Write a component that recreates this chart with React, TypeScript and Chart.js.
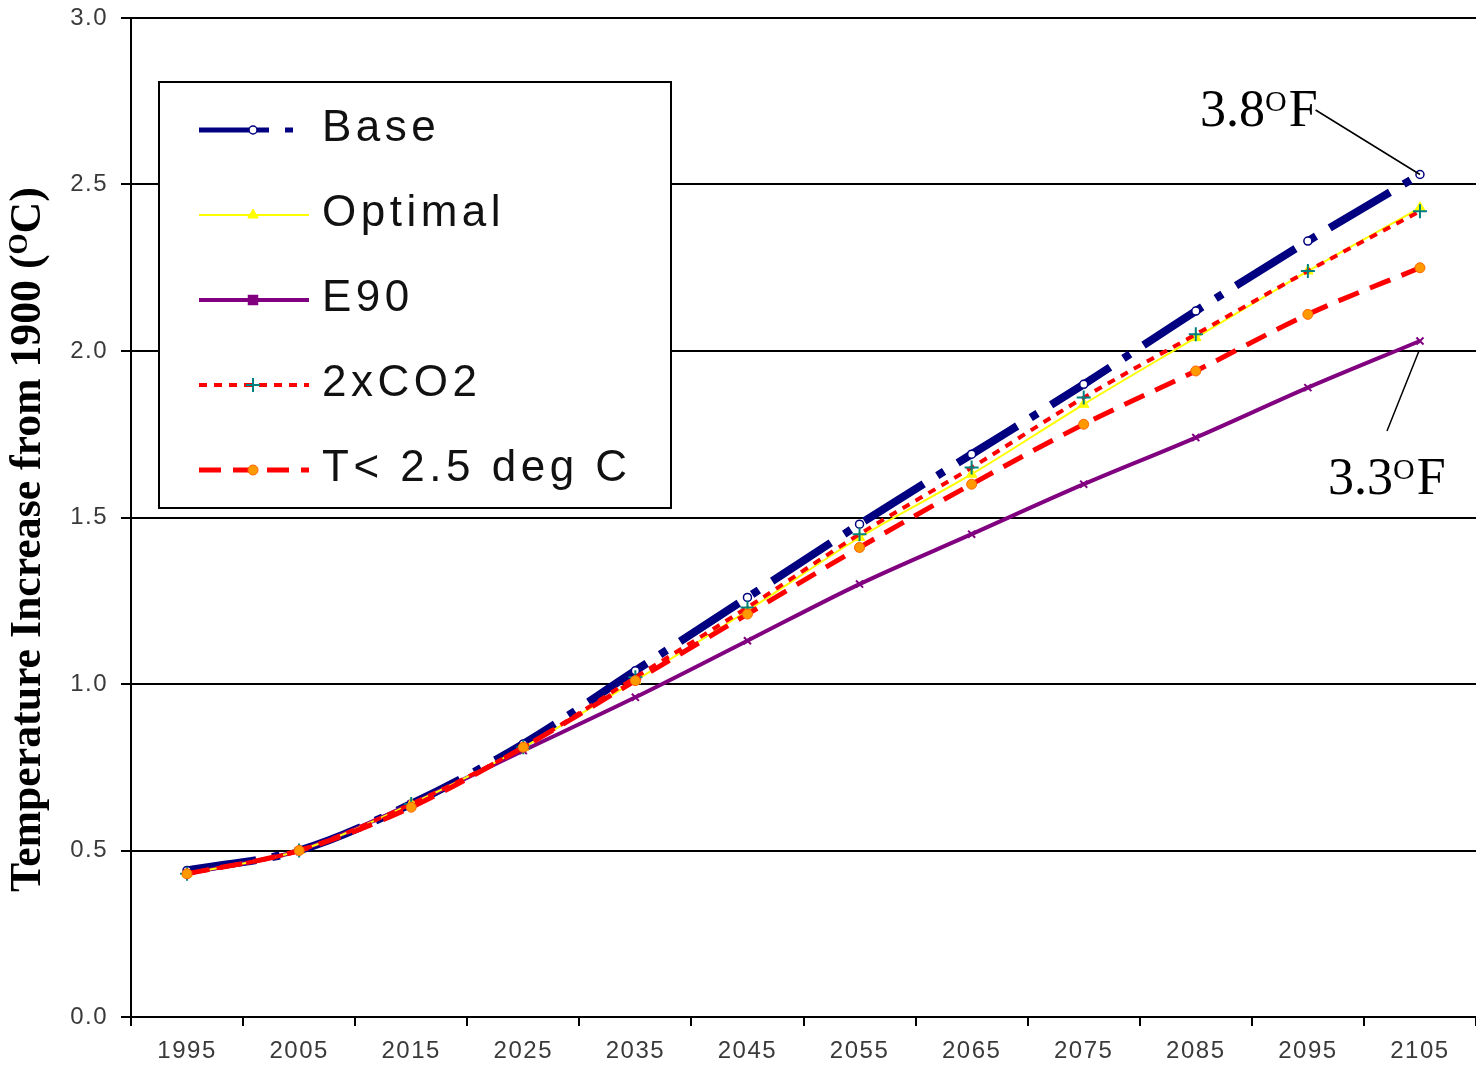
import React, { useEffect, useRef } from 'react';
import { Chart, registerables } from 'chart.js';
import { drawPoint } from 'chart.js/helpers';

Chart.register(...registerables);

const years = ['1995', '2005', '2015', '2025', '2035', '2045', '2055', '2065', '2075', '2085', '2095', '2105'];
const baseValues = [0.44, 0.5, 0.64, 0.82, 1.04, 1.26, 1.48, 1.69, 1.9, 2.12, 2.33, 2.53];
const optimalValues = [0.43, 0.5, 0.64, 0.81, 1.01, 1.22, 1.44, 1.63, 1.84, 2.04, 2.24, 2.43];
const e90Values = [0.43, 0.5, 0.64, 0.8, 0.96, 1.13, 1.3, 1.45, 1.6, 1.74, 1.89, 2.03];
const co2Values = [0.43, 0.5, 0.64, 0.81, 1.02, 1.23, 1.45, 1.65, 1.86, 2.05, 2.24, 2.42];
const t25Values = [0.43, 0.5, 0.63, 0.81, 1.01, 1.21, 1.41, 1.6, 1.78, 1.94, 2.11, 2.25];
const seriesLabels = ['Base', 'Optimal', 'E90', '2xCO2', 'T< 2.5 deg C'];
const legendMarkerStyles = ['circle', 'triangle', 'rect', 'cross', 'circle'];

const FONT_SANS = '"Liberation Sans", Arial, sans-serif';
const FONT_SERIF = '"Liberation Serif", "Times New Roman", serif';

export default function App() {
  const ref = useRef<HTMLCanvasElement>(null);

  useEffect(() => {
    const canvas = ref.current;
    if (!canvas) return;
    const ctx = canvas.getContext('2d');
    if (!ctx) return;

    const overlay = {
      id: 'overlay',
      beforeDraw(chart: any) {
        (chart.ctx as any).letterSpacing = '1.5px';
      },
      afterDraw(chart: any) {
        const c = chart.ctx as any;
        c.save();
        c.letterSpacing = '0px';

        // Legend box
        const bx = 159, by = 82, bw = 512, bh = 426;
        c.fillStyle = '#ffffff';
        c.fillRect(bx, by, bw, bh);
        c.strokeStyle = '#000';
        c.lineWidth = 2;
        c.setLineDash([]);
        c.strokeRect(bx, by, bw, bh);

        chart.data.datasets.forEach((ds: any, i: number) => {
          const y = 130 + i * 85;
          c.save();
          c.setLineDash(ds.borderDash || []);
          c.strokeStyle = ds.borderColor;
          c.lineWidth = Math.min(ds.borderWidth, 5);
          c.lineCap = 'butt';
          c.beginPath();
          c.moveTo(199, y);
          c.lineTo(309, y);
          c.stroke();
          c.setLineDash([]);
          c.fillStyle = ds.pointBackgroundColor;
          c.strokeStyle = ds.pointBorderColor;
          c.lineWidth = ds.pointBorderWidth;
          const style = legendMarkerStyles[i];
          drawPoint(c, { pointStyle: style, radius: style === 'rect' ? 6 : ds.pointRadius, borderWidth: ds.pointBorderWidth, rotation: 0 } as any, 253, y);
          c.restore();
          c.save();
          c.font = `44px ${FONT_SANS}`;
          c.letterSpacing = '4.5px';
          c.fillStyle = '#111';
          c.textAlign = 'left';
          c.textBaseline = 'alphabetic';
          c.fillText(ds.label, 322, y + 11);
          c.restore();
        });

        // Y axis title with superscript
        c.save();
        c.translate(40, 892);
        c.rotate(-Math.PI / 2);
        const p1 = 'Temperature Increase from 1900 (';
        const p2 = 'O';
        const p3 = 'C)';
        let size = 38;
        const measure = (s: number) => {
          c.font = `bold ${s}px ${FONT_SERIF}`;
          const w1 = c.measureText(p1).width;
          const w3 = c.measureText(p3).width;
          c.font = `bold ${s * 0.62}px ${FONT_SERIF}`;
          const w2 = c.measureText(p2).width;
          return [w1, w2, w3];
        };
        let [w1, w2, w3] = measure(size);
        size = size * (705 / (w1 + w2 + w3));
        [w1, w2, w3] = measure(size);
        c.fillStyle = '#000';
        c.textBaseline = 'alphabetic';
        c.textAlign = 'left';
        c.font = `bold ${size}px ${FONT_SERIF}`;
        c.fillText(p1, 0, 0);
        c.font = `bold ${size * 0.62}px ${FONT_SERIF}`;
        c.fillText(p2, w1, -size * 0.3);
        c.font = `bold ${size}px ${FONT_SERIF}`;
        c.fillText(p3, w1 + w2, 0);
        c.restore();

        // Annotations
        const xs = chart.scales.x;
        const ys = chart.scales.y;
        const last = years.length - 1;
        const bxp = xs.getPixelForValue(last);
        const byp = ys.getPixelForValue(baseValues[last]);
        const eyp = ys.getPixelForValue(e90Values[last]);

        const drawLabel = (x: number, yb: number, main: string) => {
          c.fillStyle = '#000';
          c.textAlign = 'left';
          c.textBaseline = 'alphabetic';
          c.font = `52px ${FONT_SERIF}`;
          c.fillText(main, x, yb);
          const wm = c.measureText(main).width;
          c.font = `30px ${FONT_SERIF}`;
          c.fillText('O', x + wm, yb - 15);
          const wo = c.measureText('O').width;
          c.font = `52px ${FONT_SERIF}`;
          c.fillText('F', x + wm + wo + 2, yb);
          return x + wm + wo + 2 + c.measureText('F').width;
        };
        const end38 = drawLabel(1200, 126, '3.8');
        drawLabel(1328, 494, '3.3');

        c.strokeStyle = '#000';
        c.lineWidth = 1.5;
        c.beginPath();
        c.moveTo(end38 - 2, 110);
        c.lineTo(bxp, byp);
        c.moveTo(1387, 431);
        c.lineTo(bxp - 1, eyp + 10);
        c.stroke();

        c.restore();
      },
    };

    const tickFont = { family: FONT_SANS, size: 24 };

    const chart = new Chart(ctx, {
      type: 'line',
      data: {
        labels: years,
        datasets: [
          {
            label: seriesLabels[0],
            data: baseValues,
            borderColor: '#000080',
            borderWidth: 8,
            borderDash: [70, 16, 8, 16],
            pointStyle: 'circle',
            pointRadius: 4,
            pointBackgroundColor: '#ffffff',
            pointBorderColor: '#000080',
            pointBorderWidth: 1.5,
            cubicInterpolationMode: 'monotone',
            order: 4,
          },
          {
            label: seriesLabels[1],
            data: optimalValues,
            borderColor: '#FFFF00',
            borderWidth: 2,
            pointStyle: 'triangle',
            pointRadius: 6,
            pointBackgroundColor: '#FFFF00',
            pointBorderColor: '#FFFF00',
            pointBorderWidth: 1,
            cubicInterpolationMode: 'monotone',
            order: 2,
          },
          {
            label: seriesLabels[2],
            data: e90Values,
            borderColor: '#800080',
            borderWidth: 4,
            pointStyle: 'crossRot',
            pointRadius: 5,
            pointBackgroundColor: '#800080',
            pointBorderColor: '#800080',
            pointBorderWidth: 2,
            cubicInterpolationMode: 'monotone',
            order: 3,
          },
          {
            label: seriesLabels[3],
            data: co2Values,
            borderColor: '#FF0000',
            borderWidth: 4,
            borderDash: [8, 7],
            pointStyle: 'cross',
            pointRadius: 7,
            pointBackgroundColor: '#008080',
            pointBorderColor: '#008080',
            pointBorderWidth: 2,
            cubicInterpolationMode: 'monotone',
            order: 1,
          },
          {
            label: seriesLabels[4],
            data: t25Values,
            borderColor: '#FF0000',
            borderWidth: 5,
            borderDash: [22, 12],
            pointStyle: 'circle',
            pointRadius: 5,
            pointBackgroundColor: '#FF9900',
            pointBorderColor: '#FF6600',
            pointBorderWidth: 1,
            cubicInterpolationMode: 'monotone',
            order: 0,
          },
        ] as any,
      },
      options: {
        responsive: false,
        animation: false,
        layout: { autoPadding: false, padding: { top: 18, right: 0, left: 0, bottom: 0 } },
        plugins: {
          legend: { display: false },
          tooltip: { enabled: false },
          title: { display: false },
        },
        scales: {
          x: {
            type: 'category',
            offset: true,
            grid: {
              offset: true,
              drawOnChartArea: false,
              drawTicks: true,
              tickLength: 9,
              color: '#000',
              lineWidth: 2,
            },
            border: { display: true, color: '#000', width: 2 },
            ticks: {
              color: '#3a3a3a',
              font: tickFont,
              padding: 11,
              maxRotation: 0,
              autoSkip: false,
            },
            afterFit: (s: any) => {
              s.height = 51;
              s.paddingLeft = 0;
              s.paddingRight = 0;
            },
          },
          y: {
            min: 0,
            max: 3,
            grid: { color: '#000', lineWidth: 2, tickLength: 10 },
            border: { display: true, color: '#000', width: 2 },
            ticks: {
              stepSize: 0.5,
              color: '#3a3a3a',
              font: tickFont,
              padding: 13,
              callback: (v: any) => Number(v).toFixed(1),
            },
            afterFit: (s: any) => {
              s.width = 131;
              s.paddingTop = 0;
              s.paddingBottom = 0;
            },
          },
        },
      } as any,
      plugins: [overlay],
    });

    return () => chart.destroy();
  }, []);

  return (
    <div style={{ position: 'fixed', left: 0, top: 0, width: 1476, height: 1068, background: '#ffffff' }}>
      <canvas ref={ref} width={1476} height={1068} style={{ display: 'block' }} />
    </div>
  );
}
